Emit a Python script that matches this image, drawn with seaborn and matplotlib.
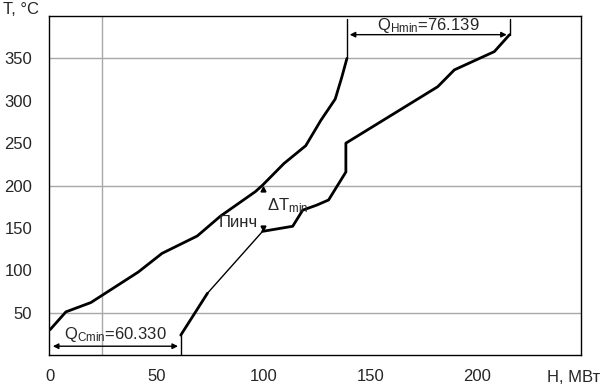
import pandas as pd
import matplotlib.pyplot as plt
import numpy as np
import seaborn as sns

# hot composite curve (H, T)
hot_H = [0, 7.4, 19.1, 41.3, 52.4, 68.9, 79.8, 96.2, 99.5, 109.5, 119.7, 126.8, 133.5, 136.5, 139.0]
hot_T = [30, 51, 62, 98, 120, 140.5, 164, 193, 200.5, 226, 247, 277, 302, 327, 350]

# cold composite curve (H, T), split in thick / thin parts
cold1_H = [61.2, 73.7]
cold1_T = [23.6, 73]
cold2_H = [73.7, 99.5]
cold2_T = [73, 146]
cold3_H = [99.5, 113.6, 118.3, 124.9, 130.4, 138.5, 138.5, 181.5, 189.3, 208.0, 215.14]
cold3_T = [146, 152, 171, 177, 183, 216, 250, 316.6, 336.5, 358, 378]

x_ticks = [0, 50, 100, 150, 200]
y_ticks = [50, 100, 150, 200, 250, 300, 350]
q_h_min = 76.139
q_c_min = 60.330

sns.set_style("white")
plt.rcParams['font.family'] = ['Liberation Sans', 'DejaVu Sans']
plt.rcParams['mathtext.fontset'] = 'custom'
plt.rcParams['mathtext.rm'] = 'Liberation Sans'
plt.rcParams['mathtext.it'] = 'Liberation Sans'

fig = plt.figure(figsize=(6.05, 3.86), dpi=100)
ax = fig.add_axes([0.081, 0.080, 0.879, 0.8785])

# grid lines
for y in [50, 200, 350]:
    ax.axhline(y, color='#a8a8a8', lw=1, zorder=0)
ax.axvline(24.5, color='#a8a8a8', lw=1, zorder=0)

hot = pd.DataFrame({'H': hot_H, 'T': hot_T})
sns.lineplot(data=hot, x='H', y='T', sort=False, estimator=None, color='black', lw=2, ax=ax)
for hh, tt, w in [(cold1_H, cold1_T, 2), (cold2_H, cold2_T, 1), (cold3_H, cold3_T, 2)]:
    d = pd.DataFrame({'H': hh, 'T': tt})
    sns.lineplot(data=d, x='H', y='T', sort=False, estimator=None, color='black', lw=w, ax=ax)

# Q_Hmin dimension
hot_end = hot_H[-1]
cold_end = cold3_H[-1]
ax.plot([hot_end, hot_end], [hot_T[-1], 396], color='black', lw=1)
ax.plot([cold_end, cold_end], [cold3_T[-1], 396], color='black', lw=1)
ax.annotate('', xy=(cold_end, 378), xytext=(hot_end, 378),
            arrowprops=dict(arrowstyle='<|-|>', color='black', lw=1, mutation_scale=8))
ax.text((hot_end + cold_end) / 2, 389, r'Q$_{\mathrm{Hmin}}$=76.139', ha='center', va='center', fontsize=12)

# Q_Cmin dimension
cold_start = cold1_H[0]
ax.plot([cold_start, cold_start], [0, cold1_T[0]], color='black', lw=1)
ax.annotate('', xy=(cold_start, 10.5), xytext=(0, 10.5),
            arrowprops=dict(arrowstyle='<|-|>', color='black', lw=1, mutation_scale=8))
ax.text(cold_start / 2, 24, r'Q$_{\mathrm{Cmin}}$=60.330', ha='center', va='center', fontsize=12)

# pinch marks
ax.plot([99.5], [196], marker='^', color='black', ms=3.5)
ax.plot([99.5], [150], marker='v', color='black', ms=3.5)
ax.text(97.5, 157, 'Пинч', ha='right', va='center', fontsize=12)
ax.text(101.5, 176, r'ΔT$_{\mathrm{min}}$', ha='left', va='center', fontsize=12)

ax.set_xlim(-0.5, 248.5)
ax.set_ylim(0, 400)
ax.set_xticks(x_ticks)
ax.set_yticks(y_ticks)
ax.tick_params(length=0, labelsize=12)
ax.tick_params(axis='y', pad=12)
ax.tick_params(axis='x', pad=10)
ax.set_xlabel('')
ax.set_ylabel('')
for s in ax.spines.values():
    s.set_color('black')
    s.set_linewidth(1)

fig.text(3 / 605, 1 - 10 / 386, 'T, °C', ha='left', va='center', fontsize=12)
fig.text(600 / 605, 1 - 377 / 386, 'H, МВт', ha='right', va='center', fontsize=12)

plt.savefig('out.png', dpi=100)
